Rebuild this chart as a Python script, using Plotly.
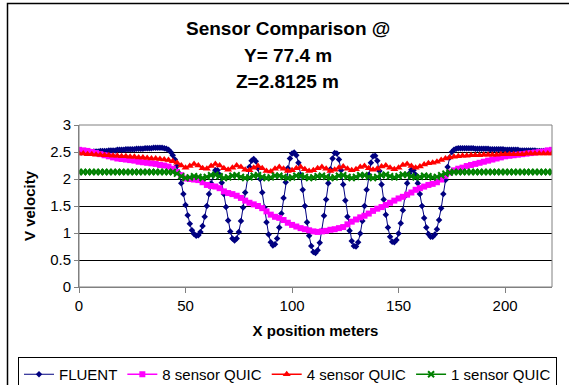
import plotly.graph_objects as go

# ---------------- data ----------------
fluent_x = list(range(0, 223))
fluent_v = [
    2.50, 2.49, 2.50, 2.50, 2.51, 2.50, 2.50, 2.51, 2.51, 2.51,
    2.52, 2.52, 2.52, 2.52, 2.53, 2.53, 2.53, 2.53, 2.54, 2.54,
    2.54, 2.54, 2.55, 2.55, 2.55, 2.55, 2.55, 2.56, 2.56, 2.56,
    2.56, 2.57, 2.57, 2.57, 2.57, 2.58, 2.58, 2.58, 2.58, 2.58,
    2.57, 2.56, 2.54, 2.50, 2.44, 2.36, 2.24, 2.10, 1.92, 1.72,
    1.52, 1.33, 1.17, 1.05, 0.98, 0.95, 0.96, 1.02, 1.13, 1.30,
    1.50, 1.72, 1.92, 2.08, 2.16, 2.16, 2.08, 1.93, 1.72, 1.48,
    1.23, 1.03, 0.90, 0.86, 0.90, 1.02, 1.22, 1.47, 1.75, 2.02,
    2.22, 2.34, 2.37, 2.33, 2.20, 2.00, 1.75, 1.47, 1.20, 0.97,
    0.83, 0.77, 0.79, 0.90, 1.10, 1.36, 1.65, 1.94, 2.20, 2.38,
    2.47, 2.49, 2.44, 2.30, 2.08, 1.80, 1.50, 1.20, 0.95, 0.76,
    0.65, 0.63, 0.68, 0.82, 1.04, 1.32, 1.62, 1.92, 2.18, 2.38,
    2.48, 2.47, 2.36, 2.16, 1.90, 1.60, 1.30, 1.04, 0.85, 0.76,
    0.75, 0.83, 0.99, 1.22, 1.50, 1.80, 2.08, 2.30, 2.42, 2.43,
    2.34, 2.15, 1.90, 1.62, 1.34, 1.10, 0.93, 0.84, 0.83, 0.87,
    0.99, 1.18, 1.42, 1.68, 1.92, 2.10, 2.17, 2.16, 2.08, 1.92,
    1.72, 1.50, 1.28, 1.10, 0.98, 0.93, 0.93, 0.97, 1.07, 1.24,
    1.46, 1.72, 1.98, 2.22, 2.40, 2.50, 2.54, 2.56, 2.57, 2.57,
    2.57, 2.57, 2.57, 2.57, 2.57, 2.57, 2.56, 2.56, 2.56, 2.56,
    2.56, 2.56, 2.56, 2.55, 2.55, 2.55, 2.55, 2.55, 2.55, 2.55,
    2.54, 2.54, 2.54, 2.54, 2.54, 2.54, 2.54, 2.53, 2.53, 2.53,
    2.53, 2.53, 2.53, 2.53, 2.53, 2.52, 2.52, 2.52, 2.52, 2.52,
    2.52, 2.52, 2.52,
]

quic_x = list(range(0, 223, 2))
quic8_v = [
    2.54, 2.53, 2.52, 2.50, 2.48, 2.46, 2.44, 2.42, 2.40, 2.38,
    2.37, 2.36, 2.35, 2.34, 2.32, 2.31, 2.30, 2.29, 2.28, 2.26,
    2.25, 2.23, 2.19, 2.13, 2.07, 2.01, 2.00, 1.99, 1.98, 1.94,
    1.89, 1.87, 1.86, 1.83, 1.77, 1.74, 1.72, 1.69, 1.65, 1.60,
    1.56, 1.53, 1.50, 1.46, 1.40, 1.34, 1.30, 1.28, 1.24, 1.19,
    1.15, 1.12, 1.09, 1.07, 1.05, 1.03, 1.02, 1.03, 1.04, 1.06,
    1.07, 1.09, 1.11, 1.16, 1.21, 1.25, 1.29, 1.32, 1.36, 1.41,
    1.45, 1.48, 1.52, 1.56, 1.60, 1.64, 1.67, 1.71, 1.75, 1.80,
    1.83, 1.86, 1.89, 1.91, 1.94, 1.99, 2.06, 2.12, 2.16, 2.19,
    2.21, 2.24, 2.26, 2.28, 2.30, 2.32, 2.34, 2.36, 2.38, 2.40,
    2.42, 2.43, 2.44, 2.45, 2.46, 2.47, 2.48, 2.49, 2.50, 2.51,
    2.53, 2.54,
]
quic4_v = [
    2.47, 2.47, 2.46, 2.46, 2.45, 2.45, 2.44, 2.44, 2.43, 2.43,
    2.42, 2.42, 2.41, 2.41, 2.40, 2.40, 2.39, 2.38, 2.38, 2.37,
    2.36, 2.35, 2.33, 2.30, 2.25, 2.21, 2.24, 2.28, 2.25, 2.20,
    2.19, 2.24, 2.28, 2.25, 2.20, 2.17, 2.21, 2.25, 2.22, 2.17,
    2.16, 2.21, 2.24, 2.20, 2.15, 2.14, 2.19, 2.22, 2.19, 2.15,
    2.16, 2.20, 2.22, 2.18, 2.15, 2.16, 2.20, 2.22, 2.19, 2.15,
    2.17, 2.21, 2.23, 2.19, 2.16, 2.18, 2.22, 2.24, 2.20, 2.17,
    2.19, 2.23, 2.25, 2.21, 2.18, 2.21, 2.26, 2.28, 2.24, 2.21,
    2.23, 2.27, 2.29, 2.30, 2.32, 2.35, 2.38, 2.40, 2.41, 2.42,
    2.43, 2.43, 2.44, 2.44, 2.44, 2.45, 2.45, 2.45, 2.45, 2.46,
    2.46, 2.46, 2.46, 2.46, 2.46, 2.47, 2.47, 2.47, 2.47, 2.47,
    2.47, 2.47,
]
quic1_v = [
    2.13, 2.13, 2.13, 2.13, 2.13, 2.13, 2.13, 2.13, 2.13, 2.13,
    2.13, 2.13, 2.13, 2.13, 2.13, 2.13, 2.13, 2.13, 2.13, 2.13,
    2.13, 2.13, 2.13, 2.10, 2.05, 2.02, 2.03, 2.05, 2.04, 2.02,
    2.04, 2.07, 2.08, 2.05, 2.02, 2.03, 2.06, 2.07, 2.04, 2.02,
    2.03, 2.06, 2.07, 2.04, 2.02, 2.03, 2.06, 2.06, 2.04, 2.02,
    2.03, 2.06, 2.06, 2.04, 2.02, 2.03, 2.05, 2.06, 2.04, 2.02,
    2.03, 2.06, 2.07, 2.04, 2.02, 2.04, 2.07, 2.07, 2.04, 2.02,
    2.04, 2.07, 2.08, 2.05, 2.03, 2.05, 2.08, 2.08, 2.05, 2.03,
    2.04, 2.06, 2.05, 2.03, 2.04, 2.07, 2.10, 2.12, 2.13, 2.13,
    2.13, 2.13, 2.13, 2.13, 2.13, 2.13, 2.13, 2.13, 2.13, 2.13,
    2.13, 2.13, 2.13, 2.13, 2.13, 2.13, 2.13, 2.13, 2.13, 2.13,
    2.13, 2.13,
]

series_names = ["FLUENT", "8 sensor QUIC", "4 sensor QUIC", "1 sensor QUIC"]
x_ticks = [0, 50, 100, 150, 200]
y_ticks = [0, 0.5, 1, 1.5, 2, 2.5, 3]
y_tick_text = ["0", "0.5", "1", "1.5", "2", "2.5", "3"]
title_lines = ["Sensor Comparison @", "Y= 77.4 m", "Z=2.8125 m"]

FONT = "Liberation Sans, Arial, sans-serif"

# ---------------- figure ----------------
fig = go.Figure()
fig.add_trace(go.Scatter(
    x=fluent_x, y=fluent_v, name=series_names[0], mode="lines+markers",
    line=dict(color="#000080", width=1),
    marker=dict(symbol="diamond", size=5, color="#000080")))
fig.add_trace(go.Scatter(
    x=quic_x, y=quic8_v, name=series_names[1], mode="lines+markers",
    line=dict(color="#FF00FF", width=1.5),
    marker=dict(symbol="square", size=6, color="#FF00FF")))
fig.add_trace(go.Scatter(
    x=quic_x, y=quic4_v, name=series_names[2], mode="lines+markers",
    line=dict(color="#FF0000", width=1.5),
    marker=dict(symbol="triangle-up", size=7, color="#FF0000")))
fig.add_trace(go.Scatter(
    x=quic_x, y=quic1_v, name=series_names[3], mode="lines+markers",
    line=dict(color="#008000", width=1.5),
    marker=dict(symbol="x-thin", size=6, color="#008000",
                line=dict(color="#008000", width=2))))

L, T, R, B = 79, 125, 17, 98
W, H = 569, 385
pw, ph = W - L - R, H - T - B


def px(xp):
    return (xp - L) / pw


def py(yp):
    return (H - B - yp) / ph


annotations = []
for yy, line in zip([28.5, 55, 81.5], title_lines):
    annotations.append(dict(
        text="<b>" + line + "</b>", x=px(287.5), y=py(yy), xref="paper", yref="paper",
        showarrow=False, xanchor="center", yanchor="middle",
        font=dict(family=FONT, size=19, color="black")))

fig.update_layout(
    width=W, height=H,
    margin=dict(l=L, r=R, t=T, b=B, autoexpand=False),
    paper_bgcolor="white", plot_bgcolor="white",
    font=dict(family=FONT, size=15, color="black"),
    showlegend=True,
    legend=dict(orientation="h", xref="paper", yref="paper",
                x=px(18), y=py(357), xanchor="left", yanchor="top",
                bordercolor="black", borderwidth=1, bgcolor="white",
                font=dict(family=FONT, size=15), itemwidth=30,
                tracegroupgap=0),
    annotations=annotations,
    shapes=[
        dict(type="rect", xref="paper", yref="paper", x0=0, x1=1, y0=0, y1=1,
             line=dict(color="#808080", width=1), layer="above"),
        dict(type="rect", xref="paper", yref="paper",
             x0=px(7.5), x1=px(590), y0=py(400), y1=py(3.5),
             line=dict(color="black", width=1.5)),
    ],
)
fig.update_xaxes(
    range=[0, 222], tickvals=x_ticks, ticks="outside", ticklen=5, tickcolor="#808080",
    showgrid=False, zeroline=False, showline=True, linecolor="#808080",
    tickfont=dict(family=FONT, size=15),
    title=dict(text="<b>X position meters</b>", font=dict(family=FONT, size=15), standoff=12))
fig.update_yaxes(
    range=[0, 3], tickvals=y_ticks, ticktext=y_tick_text,
    ticks="outside", ticklen=4, tickcolor="#808080",
    showgrid=True, gridcolor="black", gridwidth=1, zeroline=False,
    showline=True, linecolor="#808080",
    tickfont=dict(family=FONT, size=15),
    title=dict(text="<b>V velocity</b>", font=dict(family=FONT, size=15), standoff=10))

fig.write_html("out.html")
